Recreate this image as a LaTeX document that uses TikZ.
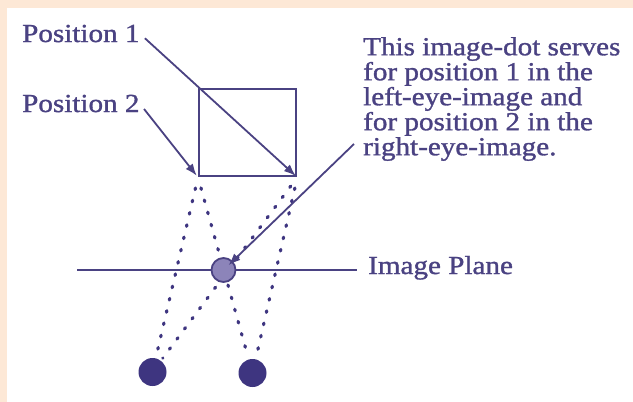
\documentclass[tikz,border=0pt]{standalone}
\usepackage{fontspec}
\setmainfont{Liberation Serif}[FakeStretch=1.12, FakeBold=1.2]
\usetikzlibrary{arrows.meta}
\definecolor{ink}{RGB}{74,66,130}
\definecolor{dotc}{RGB}{62,53,128}
\definecolor{graydot}{RGB}{140,132,185}
\definecolor{peach}{RGB}{253,232,214}
\begin{document}
\begin{tikzpicture}[x=1pt,y=-1pt,
  lbl/.style={inner sep=0pt, text=ink, font=\fontsize{26}{25}\selectfont},
  pointer/.style={draw=ink, line width=1.8pt, -{Latex[length=12pt,width=9pt]}},
  sight/.style={draw=dotc, line width=3.2pt, line cap=round, dash pattern=on 1.6pt off 11pt},
  eyedot/.style={circle, fill=dotc, minimum size=28pt, inner sep=0pt},
  imgdot/.style={circle, fill=graydot, draw=ink, line width=1.8pt, minimum size=24pt, inner sep=0pt},
  frame/.style={draw=ink, line width=2.3pt, minimum width=97pt, minimum height=87pt, inner sep=0pt}]
\useasboundingbox (0,0) rectangle (633,402);
\fill[peach] (0,0) rectangle (633,402);
\fill[white] (7,8) rectangle (633,402);

% labels
\node[lbl, anchor=base west] (p1) at (22,42) {Position 1};
\node[lbl, anchor=base west] (p2) at (22,112) {Position 2};
\node[lbl, anchor=north west, align=left] (note) at (363,37)
  {This image-dot serves\\for position 1 in the\\left-eye-image and\\for position 2 in the\\right-eye-image.};
\node[lbl, anchor=base west] (plane) at (368,274) {Image Plane};

% object and eyes
\node[frame, anchor=north west] (box) at (198,88) {};
\node[eyedot] (leye) at (152.5,372) {};
\node[eyedot] (reye) at (252.5,373) {};

% image plane
\coordinate (plL) at (77,270);
\coordinate (plR) at (357,270);
\draw[ink, line width=2.2pt] (plL) -- (plR);

% lines of sight
\draw[sight, shorten <=11pt, shorten >=3pt] (box.south west) -- (leye);
\draw[sight, shorten <=11pt, shorten >=3pt] (box.south west) -- (reye);
\draw[sight, shorten <=11pt, shorten >=3pt] (box.south east) -- (leye);
\draw[sight, shorten <=11pt, shorten >=3pt] (box.south east) -- (reye);

% image dot
\node[imgdot] (idot) at (223.5,270) {};

% pointers
\draw[pointer, shorten <=7pt, shorten >=2pt] (p1.east) -- (box.south east);
\draw[pointer, shorten <=7pt, shorten >=2pt] (p2.east) -- (box.south west);
\coordinate (cstart) at (354,144);
\draw[pointer, shorten >=7pt] (cstart) -- (idot.center);
\end{tikzpicture}
\end{document}
